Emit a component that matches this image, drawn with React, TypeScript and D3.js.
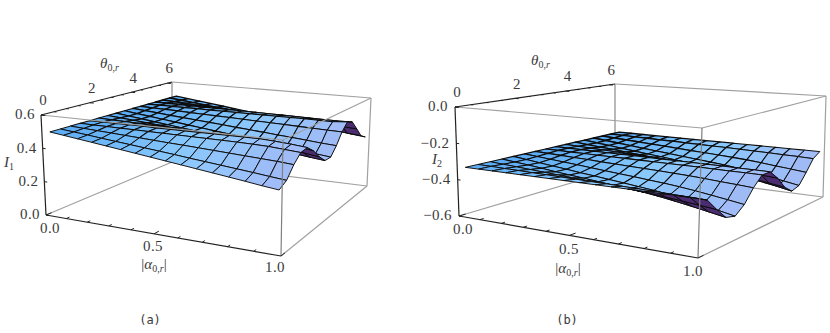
import React from 'react';
import * as d3 from 'd3';

// values: one row per mesh line in |alpha|, one column per mesh line in theta
const i1Rows = [
  [.5, .5, .5, .5, .5, .5, .5, .5, .5, .5, .5, .5, .5, .5, .5, .5],
  [.489, .491, .495, .499, .5, .497, .493, .489, .489, .493, .497, .5, .499, .495, .491, .489],
  [.478, .482, .49, .498, .5, .495, .486, .479, .479, .486, .495, .5, .498, .49, .482, .478],
  [.467, .472, .485, .497, .5, .492, .478, .468, .468, .478, .492, .5, .497, .485, .472, .467],
  [.456, .463, .48, .496, .5, .489, .471, .458, .458, .471, .489, .5, .496, .48, .463, .456],
  [.445, .454, .475, .495, .499, .486, .464, .447, .447, .464, .486, .499, .495, .475, .454, .445],
  [.434, .445, .47, .494, .499, .484, .457, .437, .437, .457, .484, .499, .494, .47, .445, .434],
  [.423, .436, .465, .493, .499, .481, .45, .426, .426, .45, .481, .499, .493, .465, .436, .423],
  [.412, .427, .461, .492, .499, .478, .442, .416, .416, .442, .478, .499, .492, .461, .427, .412],
  [.401, .417, .456, .491, .499, .475, .435, .405, .405, .435, .475, .499, .491, .456, .417, .401],
  [.39, .408, .451, .49, .499, .473, .428, .395, .395, .428, .473, .499, .49, .451, .408, .39],
  [.379, .399, .446, .489, .499, .47, .421, .384, .384, .421, .47, .499, .489, .446, .399, .379],
  [.368, .39, .441, .487, .499, .467, .414, .374, .374, .414, .467, .499, .487, .441, .39, .368],
  [.357, .381, .436, .484, .494, .464, .406, .363, .363, .406, .464, .498, .486, .436, .381, .357],
  [.345, .371, .431, .477, .487, .455, .398, .352, .352, .398, .461, .498, .485, .431, .371, .345],
  [.335, .362, .424, .47, .478, .44, .385, .342, .342, .392, .459, .505, .488, .426, .362, .335],
];

const i2Rows = [
  [-.33, -.33, -.33, -.33, -.33, -.33, -.33, -.33, -.33, -.33, -.33, -.33, -.33, -.33, -.33, -.33],
  [-.33, -.331, -.335, -.338, -.339, -.337, -.333, -.33, -.33, -.333, -.337, -.339, -.338, -.335, -.331, -.33],
  [-.33, -.333, -.34, -.346, -.348, -.344, -.336, -.331, -.331, -.336, -.344, -.348, -.346, -.34, -.333, -.33],
  [-.33, -.334, -.345, -.354, -.357, -.35, -.339, -.331, -.331, -.339, -.35, -.357, -.354, -.345, -.334, -.33],
  [-.33, -.336, -.35, -.363, -.366, -.357, -.342, -.332, -.332, -.342, -.357, -.366, -.363, -.35, -.336, -.33],
  [-.33, -.337, -.355, -.371, -.375, -.364, -.346, -.332, -.332, -.346, -.364, -.375, -.371, -.355, -.337, -.33],
  [-.33, -.339, -.36, -.379, -.383, -.371, -.349, -.332, -.332, -.349, -.371, -.383, -.379, -.36, -.339, -.33],
  [-.33, -.34, -.365, -.387, -.392, -.377, -.352, -.333, -.333, -.352, -.377, -.392, -.387, -.365, -.34, -.33],
  [-.33, -.342, -.37, -.395, -.401, -.384, -.355, -.333, -.333, -.355, -.384, -.401, -.395, -.37, -.342, -.33],
  [-.33, -.343, -.375, -.403, -.41, -.391, -.358, -.333, -.333, -.358, -.391, -.41, -.403, -.375, -.343, -.33],
  [-.33, -.345, -.38, -.411, -.419, -.398, -.361, -.334, -.334, -.361, -.398, -.419, -.411, -.38, -.345, -.33],
  [-.33, -.347, -.386, -.422, -.431, -.407, -.365, -.334, -.334, -.365, -.407, -.431, -.422, -.386, -.347, -.33],
  [-.33, -.349, -.394, -.435, -.445, -.417, -.37, -.335, -.335, -.37, -.417, -.445, -.435, -.394, -.349, -.33],
  [-.33, -.352, -.403, -.449, -.461, -.429, -.376, -.336, -.336, -.376, -.429, -.461, -.449, -.403, -.352, -.33],
  [-.33, -.354, -.412, -.464, -.476, -.441, -.381, -.336, -.336, -.381, -.441, -.476, -.464, -.412, -.354, -.33],
  [-.33, -.357, -.421, -.479, -.493, -.454, -.387, -.337, -.337, -.387, -.454, -.493, -.479, -.421, -.357, -.33],
];

const alphaTicks = [0, 0.5, 1];
const alphaMinor = [0.1, 0.2, 0.3, 0.4, 0.6, 0.7, 0.8, 0.9];
const thetaTicks = [0, 2, 4, 6];
const thetaMinor = [0.5, 1, 1.5, 2.5, 3, 3.5, 4.5, 5, 5.5];
const i1Ticks = [0, 0.2, 0.4, 0.6];
const i2Ticks = [-0.6, -0.4, -0.2, 0];

const TWO_PI = 6.283;
type Pt = [number, number];

// map the unit square onto a quad (p00, p10, p11, p01)
function squareToQuad(q: Pt[]) {
  const [[x0, y0], [x1, y1], [x2, y2], [x3, y3]] = q;
  const sx = x0 - x1 + x2 - x3;
  const sy = y0 - y1 + y2 - y3;
  const dx1 = x1 - x2, dx2 = x3 - x2, dy1 = y1 - y2, dy2 = y3 - y2;
  const den = dx1 * dy2 - dx2 * dy1;
  const g = (sx * dy2 - dx2 * sy) / den;
  const h = (dx1 * sy - sx * dy1) / den;
  const a = x1 - x0 + g * x1, b = x3 - x0 + h * x3;
  const d = y1 - y0 + g * y1, e = y3 - y0 + h * y3;
  return (u: number, v: number): Pt => {
    const w = g * u + h * v + 1;
    return [(a * u + b * v + x0) / w, (d * u + e * v + y0) / w];
  };
}

const faceColor = d3.scaleLinear<string>()
  .domain([0, 0.55, 1])
  .range(['#5aabf4', '#8ccbff', '#a8bcfa']);
const slopeShade = d3.scaleLinear().domain([-0.08, 0.08]).range([-0.2, 0.2]).clamp(true);
const meshWidth = d3.scaleLinear().domain([0, 1]).range([0.95, 1.5]);
const UNDERSIDE = '#4b2c70';
const AXIS = '#222';
const BOX = '#a0a0a0';
const TXT = '#3a3a3a';
const SERIF = '"Liberation Serif", serif';

interface PanelProps {
  rows: number[][];
  zTicks: number[];
  zDomain: [number, number];
  bottom: Pt[];
  top: Pt[];
  zLabel: string;
  caption: string;
  captionAt: Pt;
  thetaLabelAt: Pt;
  alphaLabelAt: Pt;
  zLabelAt: Pt;
  zLabelOffsets: [number, number];
  alphaOffset: { x: [number, number]; y: [number, number] };
}

function Panel(p: PanelProps) {
  const bottomMap = squareToQuad(p.bottom);
  const topMap = squareToQuad(p.top);
  const alphaScale = d3.scaleLinear().domain([0, 1]).range([0, 1]);
  const thetaScale = d3.scaleLinear().domain([0, TWO_PI]).range([0, 1]);
  const zScale = d3.scaleLinear().domain(p.zDomain).range([0, 1]);
  const uSurf = d3.scaleLinear().domain([0, p.rows.length - 1]).range([0.03, 0.985]);
  const vSurf = d3.scaleLinear().domain([0, p.rows[0].length - 1]).range([0.01, 0.99]);

  const proj = (u: number, v: number, w: number): Pt => {
    const b = bottomMap(u, v);
    const t = topMap(u, v);
    return [b[0] + (t[0] - b[0]) * w, b[1] + (t[1] - b[1]) * w];
  };
  const seg = (a: Pt, b: Pt, stroke: string, w = 1.2) => (
    <line x1={a[0]} y1={a[1]} x2={b[0]} y2={b[1]} stroke={stroke} strokeWidth={w} />
  );

  // painter's order: far corner (low alpha, high theta) first
  const quads: React.ReactNode[] = [];
  for (let j = p.rows[0].length - 2; j >= 0; j--) {
    for (let i = 0; i < p.rows.length - 1; i++) {
      const z = [p.rows[i][j], p.rows[i + 1][j], p.rows[i + 1][j + 1], p.rows[i][j + 1]];
      const pts: Pt[] = [
        proj(uSurf(i), vSurf(j), zScale(z[0])),
        proj(uSurf(i + 1), vSurf(j), zScale(z[1])),
        proj(uSurf(i + 1), vSurf(j + 1), zScale(z[2])),
        proj(uSurf(i), vSurf(j + 1), zScale(z[3])),
      ];
      const area = d3.polygonArea(pts);
      const slope = (z[3] + z[2] - z[0] - z[1]) / 2;
      const base = d3.color(faceColor(uSurf(i)))!;
      const s = slopeShade(slope);
      const fill = area < 0 ? UNDERSIDE : (s > 0 ? base.darker(s * 0.4) : base.brighter(-s * 0.4)).formatHex();
      quads.push(
        <polygon
          key={`${i}-${j}`}
          points={pts.map((d) => d.join(',')).join(' ')}
          fill={fill}
          stroke="#0c0c0c"
          strokeWidth={meshWidth(vSurf(j) * (1 - uSurf(i)))}
          strokeLinejoin="round"
        />,
      );
    }
  }

  const zTop = 1, zBot = 0;
  const c000 = proj(0, 0, zBot), c100 = proj(1, 0, zBot), c110 = proj(1, 1, zBot), c010 = proj(0, 1, zBot);
  const c001 = proj(0, 0, zTop), c101 = proj(1, 0, zTop), c111 = proj(1, 1, zTop), c011 = proj(0, 1, zTop);

  const alphaOffX = d3.scaleLinear().domain([0, 1]).range(p.alphaOffset.x);
  const alphaOffY = d3.scaleLinear().domain([0, 1]).range(p.alphaOffset.y);
  const zOffX = d3.scaleLinear().domain(p.zDomain).range(p.zLabelOffsets);
  const fmt = d3.format('.1f');

  return (
    <g>
      {/* hidden box edges go behind the surface */}
      {seg(c011, c010, '#8a8a8a')}
      {seg(c011, c111, BOX)}
      {seg(c000, c010, BOX)}
      {seg(c010, c110, BOX)}
      {seg(c111, c110, BOX)}
      {quads}
      {seg(c001, c101, BOX)}
      {seg(c101, c111, BOX)}
      {seg(c101, c100, '#808080')}
      {seg(c100, c110, BOX)}
      {seg(c000, c100, AXIS, 1.2)}
      {seg(c000, c001, AXIS, 1.2)}
      {seg(c001, c011, AXIS, 1.2)}

      {alphaTicks.concat(alphaMinor).map((a) => {
        const major = alphaTicks.includes(a);
        const s = proj(alphaScale(a), 0, zBot);
        return <React.Fragment key={`a${a}`}>{seg(s, proj(alphaScale(a), major ? 0.035 : 0.02, zBot), AXIS, 1)}</React.Fragment>;
      })}
      {thetaTicks.concat(thetaMinor).map((t) => {
        const major = thetaTicks.includes(t);
        const s = proj(0, thetaScale(t), zTop);
        return <React.Fragment key={`t${t}`}>{seg(s, proj(major ? 0.02 : 0.012, thetaScale(t), zTop), AXIS, 1)}</React.Fragment>;
      })}
      {p.zTicks.map((z) => {
        const s = proj(0, 0, zScale(z));
        return <React.Fragment key={`z${z}`}>{seg(s, proj(0.014, 0, zScale(z)), AXIS, 1)}</React.Fragment>;
      })}

      <g fontFamily={SERIF} fontSize={15} fill={TXT}>
        {alphaTicks.map((a) => {
          const s = proj(alphaScale(a), 0, 0);
          return (
            <text key={a} x={s[0] + alphaOffX(a)} y={s[1] + alphaOffY(a)} dy="0.35em" textAnchor="middle" letterSpacing={0.4}>
              {fmt(a)}
            </text>
          );
        })}
        {thetaTicks.map((t) => {
          const s = proj(0, thetaScale(t), 1);
          return (
            <text key={t} x={s[0] + 2} y={s[1] - 15} dy="0.35em" textAnchor="middle">
              {t}
            </text>
          );
        })}
        {p.zTicks.map((z) => {
          const s = proj(0, 0, zScale(z));
          return (
            <text key={z} x={s[0] + zOffX(z)} y={s[1] - 1} dy="0.35em" textAnchor="end" letterSpacing={0.4}>
              {z < 0 ? `\u2212${fmt(-z)}` : fmt(z)}
            </text>
          );
        })}
        <text x={p.thetaLabelAt[0]} y={p.thetaLabelAt[1]}>
          <tspan fontStyle="italic">{'\u03b8'}</tspan>
          <tspan fontSize={10} dy={3}>0,</tspan>
          <tspan fontSize={10} fontStyle="italic">r</tspan>
        </text>
        <text x={p.alphaLabelAt[0]} y={p.alphaLabelAt[1]} textAnchor="middle">
          |<tspan fontStyle="italic">{'\u03b1'}</tspan>
          <tspan fontSize={10} dy={3}>0,</tspan>
          <tspan fontSize={10} fontStyle="italic">r</tspan>
          <tspan dy={-3}>|</tspan>
        </text>
        <text x={p.zLabelAt[0]} y={p.zLabelAt[1]} fontStyle="italic">
          I<tspan fontSize={10} fontStyle="normal" dy={3}>{p.zLabel}</tspan>
        </text>
      </g>
      <text x={p.captionAt[0]} y={p.captionAt[1]} textAnchor="middle" fontFamily='"DejaVu Sans Mono", monospace' fontSize={12} fill={TXT}>
        {p.caption}
      </text>
    </g>
  );
}

export default function App() {
  return (
    <svg width={830} height={333} style={{ position: 'absolute', left: 0, top: 0, background: '#fff' }}>
      <Panel
        rows={i1Rows}
        zTicks={i1Ticks}
        zDomain={[0, 0.6]}
        bottom={[[46, 215], [281, 256], [367, 186], [172, 162]]}
        top={[[41, 115], [283, 140], [371, 98], [172, 82]]}
        zLabel="1"
        caption="(a)"
        captionAt={[150, 324]}
        thetaLabelAt={[100, 68]}
        alphaLabelAt={[154, 269]}
        zLabelAt={[4, 167]}
        zLabelOffsets={[-6, -6]}
        alphaOffset={{ x: [4, -6], y: [13, 11] }}
      />
      <Panel
        rows={i2Rows}
        zTicks={i2Ticks}
        zDomain={[-0.6, 0]}
        bottom={[[459, 216], [698, 258], [823, 197], [615, 170]]}
        top={[[455, 107], [702, 128], [826, 96], [615, 84]]}
        zLabel="2"
        caption="(b)"
        captionAt={[567, 324]}
        thetaLabelAt={[531, 65]}
        alphaLabelAt={[568, 273]}
        zLabelAt={[432, 164]}
        zLabelOffsets={[-7, -7]}
        alphaOffset={{ x: [4, -5], y: [13, 13] }}
      />
    </svg>
  );
}
